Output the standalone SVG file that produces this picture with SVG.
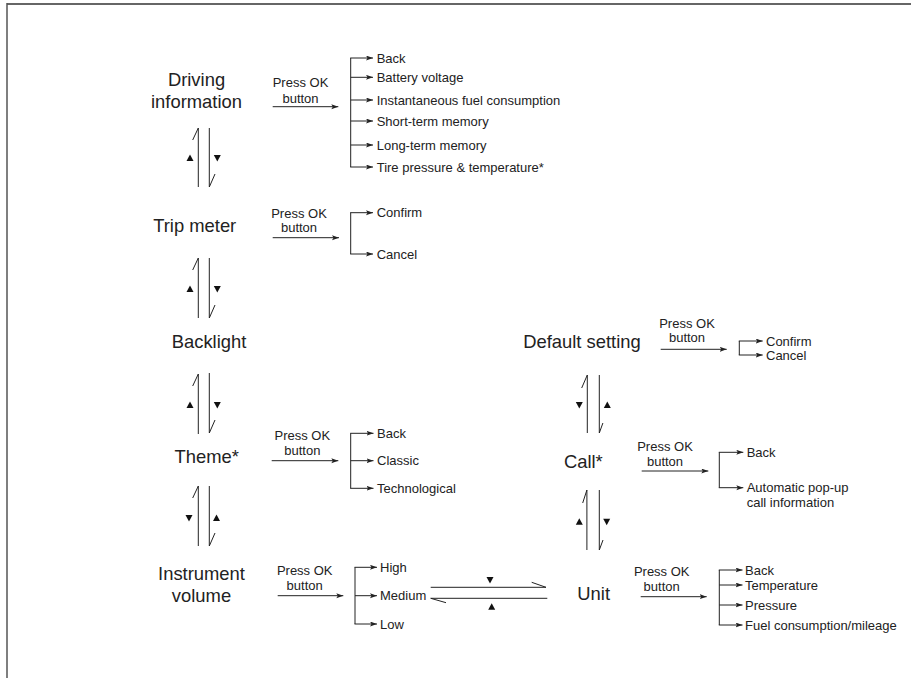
<svg xmlns="http://www.w3.org/2000/svg" width="911" height="678" viewBox="0 0 911 678">
<style>
.big{font-family:"Liberation Sans",Arial,sans-serif;font-size:18.4px;fill:#222;text-anchor:middle}
.sm{font-family:"Liberation Sans",Arial,sans-serif;font-size:13px;fill:#222}
.mid{text-anchor:middle}
.ln{fill:none;stroke:#222;stroke-width:1}
.ar{fill:none;stroke:#222;stroke-width:1;marker-end:url(#ah)}
.tri{fill:#111}
</style>
<defs>
<marker id="ah" markerUnits="userSpaceOnUse" markerWidth="8" markerHeight="6" refX="7" refY="2.5" orient="auto">
<path d="M0,0 L7,2.5 L0,5 L1.5,2.5 z" fill="#222"/>
</marker>
<polygon id="up" points="-3.5,3 3.5,3 0,-3.5"/>
<polygon id="dn" points="-3.5,-3 3.5,-3 0,3.5"/>
</defs>
<rect width="911" height="678" fill="#fff"/>
<g id="frame">
<line x1="7" y1="4" x2="911" y2="4" stroke="#666" stroke-width="2"/>
<line x1="7" y1="3" x2="7" y2="678" stroke="#555" stroke-width="1.5"/>
</g>

<g id="node-driving"><text class="big" x="196.5" y="86">Driving</text><text class="big" x="196.5" y="108">information</text></g>
<g id="node-trip"><text class="big" x="194.7" y="231.5">Trip meter</text></g>
<g id="node-backlight"><text class="big" x="209" y="347.5">Backlight</text></g>
<g id="node-theme"><text class="big" x="206.7" y="463">Theme*</text></g>
<g id="node-volume"><text class="big" x="201.5" y="580">Instrument</text><text class="big" x="201.5" y="601.5">volume</text></g>
<g id="node-default"><text class="big" x="582" y="348">Default setting</text></g>
<g id="node-call"><text class="big" x="583.3" y="468">Call*</text></g>
<g id="node-unit"><text class="big" x="593.7" y="600">Unit</text></g>

<g id="labels" class="sm">
<text class="sm mid" x="300.5" y="87.3">Press OK</text><text class="sm mid" x="300.5" y="102.5">button</text>
<text class="sm mid" x="299" y="218">Press OK</text><text class="sm mid" x="299" y="232.3">button</text>
<text class="sm mid" x="302.3" y="439.7">Press OK</text><text class="sm mid" x="302.3" y="454.7">button</text>
<text class="sm mid" x="304.7" y="575.3">Press OK</text><text class="sm mid" x="304.7" y="590.3">button</text>
<text class="sm mid" x="661.7" y="575.7">Press OK</text><text class="sm mid" x="661.7" y="590.7">button</text>
<text class="sm mid" x="665" y="450.7">Press OK</text><text class="sm mid" x="665" y="466.3">button</text>
<text class="sm mid" x="687" y="328">Press OK</text><text class="sm mid" x="687" y="342">button</text>
</g>

<g id="options" class="sm">
<text class="sm" x="376.7" y="62.5">Back</text>
<text class="sm" x="376.7" y="81.8">Battery voltage</text>
<text class="sm" x="376.7" y="104.5">Instantaneous fuel consumption</text>
<text class="sm" x="376.7" y="125.5">Short-term memory</text>
<text class="sm" x="376.7" y="149.5">Long-term memory</text>
<text class="sm" x="376.7" y="171.5">Tire pressure &amp; temperature*</text>
<text class="sm" x="376.7" y="217.2">Confirm</text>
<text class="sm" x="376.7" y="258.5">Cancel</text>
<text class="sm" x="377" y="437.8">Back</text>
<text class="sm" x="377" y="465.2">Classic</text>
<text class="sm" x="377" y="492.8">Technological</text>
<text class="sm" x="380" y="571.8">High</text>
<text class="sm" x="380" y="600.2">Medium</text>
<text class="sm" x="380" y="628.5">Low</text>
<text class="sm" x="766" y="345.5">Confirm</text>
<text class="sm" x="766" y="359.5">Cancel</text>
<text class="sm" x="746.7" y="456.8">Back</text>
<text class="sm" x="746.7" y="492.2">Automatic pop-up</text>
<text class="sm" x="746.7" y="506.5">call information</text>
<text class="sm" x="745" y="574.5">Back</text>
<text class="sm" x="745" y="589.5">Temperature</text>
<text class="sm" x="745" y="609.5">Pressure</text>
<text class="sm" x="745" y="629.5">Fuel consumption/mileage</text>
</g>

<g id="connectors">
<!-- Press OK arrows -->
<line class="ar" x1="272.7" y1="106.7" x2="338.3" y2="106.7"/>
<line class="ar" x1="272.7" y1="237.7" x2="339" y2="237.7"/>
<line class="ar" x1="271.7" y1="460.7" x2="338.3" y2="460.7"/>
<line class="ar" x1="277.7" y1="595.7" x2="343.3" y2="595.7"/>
<line class="ar" x1="640.7" y1="596.7" x2="706.7" y2="596.7"/>
<line class="ar" x1="641.7" y1="471" x2="708.3" y2="471"/>
<line class="ar" x1="660.7" y1="349.3" x2="726.7" y2="349.3"/>

<!-- branches -->
<line class="ln" x1="350.7" y1="58" x2="350.7" y2="167"/>
<line class="ar" x1="350.2" y1="58" x2="373" y2="58"/>
<line class="ar" x1="350.7" y1="77.3" x2="373" y2="77.3"/>
<line class="ar" x1="350.7" y1="100" x2="373" y2="100"/>
<line class="ar" x1="350.7" y1="121" x2="373" y2="121"/>
<line class="ar" x1="350.7" y1="145" x2="373" y2="145"/>
<line class="ar" x1="350.2" y1="167" x2="373" y2="167"/>

<line class="ln" x1="350.7" y1="212.7" x2="350.7" y2="254"/>
<line class="ar" x1="350.2" y1="212.7" x2="373" y2="212.7"/>
<line class="ar" x1="350.2" y1="254" x2="373" y2="254"/>

<line class="ln" x1="350.7" y1="433.3" x2="350.7" y2="488.3"/>
<line class="ar" x1="350.2" y1="433.3" x2="373.5" y2="433.3"/>
<line class="ar" x1="350.7" y1="460.7" x2="373.5" y2="460.7"/>
<line class="ar" x1="350.2" y1="488.3" x2="373.5" y2="488.3"/>

<line class="ln" x1="355" y1="567.3" x2="355" y2="624"/>
<line class="ar" x1="354.5" y1="567.3" x2="377" y2="567.3"/>
<line class="ar" x1="355" y1="595.7" x2="377" y2="595.7"/>
<line class="ar" x1="354.5" y1="624" x2="377" y2="624"/>

<line class="ln" x1="739.3" y1="341" x2="739.3" y2="355"/>
<line class="ar" x1="738.8" y1="341" x2="762.7" y2="341"/>
<line class="ar" x1="738.8" y1="355" x2="762.7" y2="355"/>

<line class="ln" x1="719.3" y1="452.3" x2="719.3" y2="487.7"/>
<line class="ar" x1="718.8" y1="452.3" x2="743.3" y2="452.3"/>
<line class="ar" x1="718.8" y1="487.7" x2="743.3" y2="487.7"/>

<line class="ln" x1="719.3" y1="570" x2="719.3" y2="625"/>
<line class="ar" x1="718.8" y1="570" x2="742.5" y2="570"/>
<line class="ar" x1="719.3" y1="585" x2="742.5" y2="585"/>
<line class="ar" x1="719.3" y1="605" x2="742.5" y2="605"/>
<line class="ar" x1="718.8" y1="625" x2="742.5" y2="625"/>

<!-- vertical pairs, left column -->
<path class="ln" d="M198.3,187 V128 L192.7,140 M209.3,128 V187 L215,174"/>
<path class="ln" d="M198.3,318 V258 L192.7,270 M209.3,258 V318 L215,305"/>
<path class="ln" d="M198.3,434 V374 L192.7,386 M209.3,373 V433 L215,420"/>
<path class="ln" d="M198.3,546 V486 L192.7,498 M209.3,486 V546 L215,533"/>
<!-- vertical pairs, right column -->
<path class="ln" d="M587.3,433 V375 L581.7,388 M599.3,375 V433 L602.9,423"/>
<path class="ln" d="M586.9,550 V490 L582.7,503 M599.3,490 V550 L603,540"/>
<!-- horizontal pair -->
<path class="ln" d="M430.7,587.3 H546 L531.7,582.3 M547.3,598.3 H430.7 L446,602.7"/>

<g class="tri">
<use href="#up" x="190" y="158"/><use href="#dn" x="217.3" y="158"/>
<use href="#up" x="190" y="289"/><use href="#dn" x="217.3" y="289"/>
<use href="#up" x="190" y="405"/><use href="#dn" x="217.3" y="405"/>
<use href="#dn" x="189" y="518"/><use href="#up" x="216.5" y="518"/>
<use href="#dn" x="579.3" y="405"/><use href="#up" x="607.3" y="405"/>
<use href="#up" x="579.3" y="521.7"/><use href="#dn" x="606.7" y="521.7"/>
<use href="#dn" x="490" y="580"/><use href="#up" x="491.7" y="606.7"/>
</g>
</g>
</svg>
